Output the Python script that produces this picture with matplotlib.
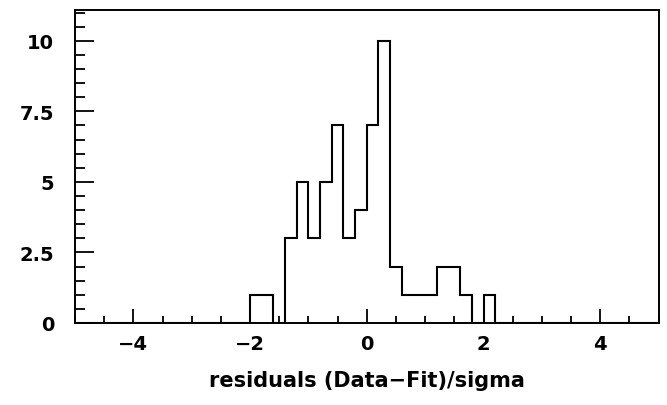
import numpy as np
import matplotlib
matplotlib.use("Agg")
import matplotlib.pyplot as plt
from matplotlib.ticker import MultipleLocator, FormatStrFormatter

# residual histogram, 50 bins of width 0.2 between -5 and 5
bin_edges = np.linspace(-5, 5, 51)
counts = [0, 0, 0, 0, 0, 0, 0, 0, 0, 0,
          0, 0, 0, 0, 0, 1, 1, 0, 3, 5,
          3, 5, 7, 3, 4, 7, 10, 2, 1, 1,
          1, 2, 2, 1, 0, 1, 0, 0, 0, 0,
          0, 0, 0, 0, 0, 0, 0, 0, 0, 0]
x_label = "residuals (Data\u2212Fit)/sigma"

plt.rcParams['font.family'] = ['DejaVu Sans']
plt.rcParams['font.weight'] = 'bold'

fig = plt.figure(figsize=(6.67, 4.06), dpi=100)
ax = fig.add_axes([0.1124, 0.202, 0.875, 0.771])

ax.stairs(counts, bin_edges, color='black', linewidth=1.5)

ax.set_xlim(-5, 5)
ax.set_ylim(0, 11.09)

ax.xaxis.set_major_locator(MultipleLocator(2))
ax.xaxis.set_minor_locator(MultipleLocator(0.5))
ax.yaxis.set_major_locator(MultipleLocator(2.5))
ax.yaxis.set_minor_locator(MultipleLocator(0.5))
ax.yaxis.set_major_formatter(FormatStrFormatter('%g'))

ax.tick_params(which='both', direction='in', top=False, right=False,
               width=1.3, labelsize=14)
ax.tick_params(axis='x', which='major', length=10, pad=8)
ax.tick_params(axis='x', which='minor', length=5)
ax.tick_params(axis='y', which='major', length=14, pad=15)
ax.tick_params(axis='y', which='minor', length=7)

for side in ax.spines.values():
    side.set_linewidth(1.4)

ax.set_xlabel(x_label, fontsize=15, fontweight='bold', labelpad=12)

fig.savefig("out.png", dpi=100)
